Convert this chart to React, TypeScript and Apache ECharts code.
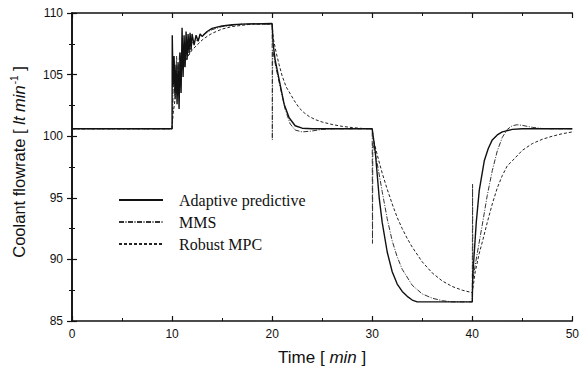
import React, { useEffect, useRef } from "react";
import * as echarts from "echarts";

const seriesNames = ["Adaptive predictive", "MMS", "Robust MPC"];

const adaptiveT = [0, 10.0, 10.02, 10.1, 10.2, 10.3, 10.4, 10.5, 10.6, 10.7, 10.8, 10.9, 11.0, 11.1, 11.2, 11.3, 11.4, 11.5, 11.6, 11.7, 11.8, 11.9, 12.0, 12.2, 12.4, 12.6, 12.8, 13.0, 13.5, 14, 15, 16, 17, 20.0, 20.1, 20.3, 20.7, 21.2, 21.7, 22.3, 23, 24, 30.0, 30.3, 30.7, 31.0, 31.5, 32, 32.5, 33, 33.5, 34, 34.5, 40.0, 40.05, 40.4, 40.7, 41.2, 41.6, 42.0, 42.5, 43, 44, 45, 50];
const adaptiveV = [100.6, 100.6, 108.2, 104.0, 106.5, 103.2, 105.8, 102.6, 106.0, 102.2, 106.8, 103.5, 108.8, 104.8, 108.2, 105.6, 108.5, 106.2, 108.3, 106.8, 108.4, 107.0, 108.3, 107.4, 108.2, 107.7, 108.3, 108.1, 108.5, 108.75, 108.95, 109.05, 109.1, 109.15, 107.5, 106.2, 104.6, 102.6, 101.5, 100.85, 100.65, 100.6, 100.6, 98.8, 95.0, 93.0, 90.6, 89.0, 88.0, 87.4, 87.0, 86.7, 86.55, 86.55, 88.7, 93.0, 95.6, 98.0, 99.0, 99.7, 100.1, 100.35, 100.55, 100.6, 100.6];

const mmsT = [0, 10, 10.05, 10.15, 10.3, 10.45, 10.6, 10.75, 10.9, 11.05, 11.25, 11.45, 11.7, 12, 12.5, 13, 14, 15, 16, 17, 20, 20.02, 20.05, 20.4, 20.8, 21.3, 21.8, 22.3, 23, 23.8, 25, 26, 30, 30.03, 30.06, 30.5, 31, 31.5, 32, 32.5, 33, 34, 35, 36, 37, 38, 40, 40.03, 40.06, 40.5, 41, 41.5, 42, 42.5, 43, 43.5, 44, 44.5, 45, 46, 47, 48, 50];
const mmsV = [100.6, 100.6, 101.5, 105.5, 103.0, 106.5, 103.8, 106.8, 104.6, 107.3, 105.6, 107.6, 106.6, 107.6, 107.8, 108.2, 108.65, 108.9, 109.0, 109.1, 109.1, 99.7, 107.0, 105.5, 104.0, 102.2, 101.0, 100.5, 100.35, 100.4, 100.55, 100.6, 100.6, 91.3, 99.5, 97.8, 95.5, 93.3, 91.5, 90.2, 89.2, 87.9, 87.2, 86.85, 86.65, 86.55, 86.55, 96.1, 88.4, 90.5, 92.8, 95.2, 97.2, 98.8, 99.9, 100.55, 100.85, 100.93, 100.88, 100.72, 100.62, 100.6, 100.6];

const robustT = [0, 10, 10.1, 10.3, 10.5, 10.8, 11.2, 11.6, 12, 12.5, 13, 13.5, 14, 15, 16, 17, 18, 20, 20.1, 20.4, 20.7, 21.0, 21.4, 21.7, 22.2, 22.7, 23.2, 23.7, 24.3, 25, 26, 27, 28, 29, 30, 30.1, 30.5, 31, 31.5, 32, 32.5, 33, 33.5, 34, 35, 36, 37, 38, 39, 40, 40.3, 40.7, 41, 41.5, 42, 42.5, 43, 43.5, 44, 45, 46, 47, 48, 49, 50];
const robustV = [100.6, 100.6, 101.8, 103.0, 104.0, 105.0, 105.9, 106.5, 107.0, 107.4, 107.8, 108.1, 108.35, 108.7, 108.9, 109.0, 109.1, 109.1, 108.0, 106.8, 105.8, 104.9, 104.0, 103.6, 102.9, 102.3, 101.9, 101.6, 101.35, 101.15, 100.95, 100.8, 100.7, 100.63, 100.6, 99.8, 98.5, 97.0, 95.7, 94.5, 93.4, 92.5, 91.7, 91.0, 89.8, 88.9, 88.25, 87.8, 87.5, 87.3, 89.0, 90.5, 91.4, 93.0, 94.5, 95.8, 96.8, 97.6, 98.0, 98.85, 99.4, 99.75, 100.0, 100.2, 100.35];

const xTicks = { min: 0, max: 50, interval: 10 };
const yTicks = { min: 85, max: 110, interval: 5 };

const zip = (t: number[], v: number[]) => t.map((x, i) => [x, v[i]]);

const App: React.FC = () => {
  const ref = useRef<HTMLDivElement>(null);
  useEffect(() => {
    if (!ref.current) return;
    const chart = echarts.init(ref.current, undefined, { renderer: "svg" });
    const sans = "Liberation Sans, Arial, sans-serif";
    const serif = "Liberation Serif, Times New Roman, serif";
    const axisCommon = {
      type: "value" as const,
      axisLine: { show: true, lineStyle: { color: "#111", width: 1.6 } },
      axisTick: { show: true, inside: true, length: 5, lineStyle: { color: "#111", width: 1.2 } },
      minorTick: { show: true, splitNumber: 2, length: 3, lineStyle: { color: "#111", width: 1 } },
      splitLine: { show: false },
    };
    chart.setOption({
      animation: false,
      backgroundColor: "#fff",
      grid: { left: 72, right: 9, top: 13, bottom: 45 },
      legend: {
        data: seriesNames,
        orient: "vertical",
        left: 113,
        top: 187,
        itemWidth: 44,
        itemHeight: 14,
        itemGap: 6,
        itemStyle: { opacity: 0, borderWidth: 0 },
        textStyle: { fontFamily: serif, fontSize: 16, color: "#111", lineHeight: 16, padding: [0, 0, 0, 11] },
      },
      xAxis: [
        {
          ...axisCommon,
          ...xTicks,
          position: "bottom",
          name: "Time [ {i|min} ]",
          nameLocation: "middle",
          nameGap: 28,
          nameTextStyle: {
            fontFamily: sans,
            fontSize: 17,
            color: "#111",
            rich: { i: { fontFamily: sans, fontSize: 17, fontStyle: "italic", color: "#111" } },
          },
          axisLabel: { fontFamily: sans, fontSize: 12, color: "#111", margin: 7 },
        },
        {
          ...axisCommon,
          ...xTicks,
          position: "top",
          axisLabel: { show: false },
        },
      ],
      yAxis: [
        {
          ...axisCommon,
          ...yTicks,
          position: "left",
          name: "Coolant flowrate [ {i|lt min}{s|-1} ]",
          nameLocation: "middle",
          nameGap: 44,
          nameTextStyle: {
            fontFamily: sans,
            fontSize: 16.5,
            color: "#111",
            padding: [0, 0, 0, 10],
            rich: {
              i: { fontFamily: sans, fontSize: 16.5, fontStyle: "italic", color: "#111" },
              s: { fontFamily: sans, fontSize: 10, color: "#111", verticalAlign: "top", padding: [0, 0, 9, 1] },
            },
          },
          axisLabel: { fontFamily: sans, fontSize: 12, color: "#111", margin: 9 },
        },
        {
          ...axisCommon,
          ...yTicks,
          position: "right",
          axisLabel: { show: false },
        },
      ],
      series: [
        {
          name: seriesNames[0],
          type: "line",
          symbol: "none",
          data: zip(adaptiveT, adaptiveV),
          lineStyle: { color: "#111", width: 1.4, type: "solid" },
          itemStyle: { color: "#111" },
          z: 5,
        },
        {
          name: seriesNames[1],
          type: "line",
          symbol: "none",
          data: zip(mmsT, mmsV),
          lineStyle: { color: "#333", width: 1, type: [5, 1.5, 1, 1.5] },
          itemStyle: { color: "#333" },
          z: 4,
        },
        {
          name: seriesNames[2],
          type: "line",
          symbol: "none",
          data: zip(robustT, robustV),
          lineStyle: { color: "#222", width: 1, type: [3, 2] },
          itemStyle: { color: "#222" },
          z: 3,
        },
      ],
    });
    return () => chart.dispose();
  }, []);
  return (
    <div
      ref={ref}
      style={{ position: "fixed", left: 0, top: 0, width: 582, height: 371, background: "#fff" }}
    />
  );
};

export default App;
